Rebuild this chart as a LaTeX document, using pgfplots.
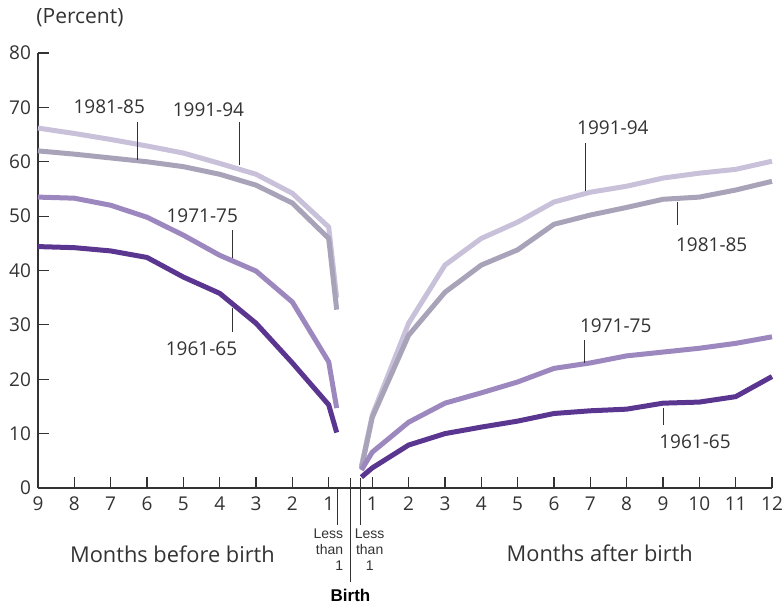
\documentclass[border=0pt]{standalone}
\usepackage{pgfplots}
\pgfplotsset{compat=1.18}
\usepackage{fontspec}
\setmainfont{Open Sans}
\newfontfamily\arialf{Liberation Sans}
\definecolor{cA}{HTML}{5A3690}
\definecolor{cB}{HTML}{9C88BF}
\definecolor{cC}{HTML}{A9A3B9}
\definecolor{cD}{HTML}{C9C0DA}
\definecolor{axc}{HTML}{333333}
\begin{document}
\begin{tikzpicture}
\path[use as bounding box] (-19pt,-58.5pt) rectangle (372.5pt,244pt);
\begin{axis}[
  at={(0pt,0pt)}, anchor=south west,
  scale only axis, width=367pt, height=217.5pt,
  xmin=-8.6, xmax=11.6, ymin=0, ymax=80,
  axis x line=bottom, axis y line=left,
  axis line style={-, axc, line width=0.7pt},
  clip=false,
  tick align=inside, major tick length=5.5pt,
  tick style={axc, line width=0.6pt},
  xtick={-8.6,-7.6,-6.6,-5.6,-4.6,-3.6,-2.6,-1.6,-0.6,0.6,1.6,2.6,3.6,4.6,5.6,6.6,7.6,8.6,9.6,10.6,11.6},
  xticklabels={9,8,7,6,5,4,3,2,1,1,2,3,4,5,6,7,8,9,10,11,12},
  ytick={0,10,...,80},
  tick label style={font=\fontsize{9.5}{11}\selectfont, text=axc},
  xticklabel style={yshift=-1pt},
  /pgf/number format/assume math mode=true,
]
% before birth
\addplot[cD, line width=2.5pt] coordinates {(-8.6,66.2)(-7.6,65.2)(-6.6,64.1)(-5.6,62.9)(-4.6,61.6)(-3.6,59.7)(-2.6,57.7)(-1.6,54.2)(-0.6,48.0)(-0.38,35.0)};
\addplot[cC, line width=2.5pt] coordinates {(-8.6,62.0)(-7.6,61.4)(-6.6,60.7)(-5.6,60.0)(-4.6,59.1)(-3.6,57.7)(-2.6,55.7)(-1.6,52.4)(-0.6,45.9)(-0.38,32.8)};
\addplot[cB, line width=2.5pt] coordinates {(-8.6,53.5)(-7.6,53.3)(-6.6,52.0)(-5.6,49.8)(-4.6,46.5)(-3.6,42.8)(-2.6,39.9)(-1.6,34.2)(-0.6,23.2)(-0.38,14.7)};
\addplot[cA, line width=2.5pt] coordinates {(-8.6,44.4)(-7.6,44.2)(-6.6,43.6)(-5.6,42.4)(-4.6,38.8)(-3.6,35.8)(-2.6,30.3)(-1.6,23.0)(-0.6,15.3)(-0.38,10.2)};
% after birth
\addplot[cD, line width=2.5pt] coordinates {(0.3,4.0)(0.6,13.4)(1.6,30.3)(2.6,41.0)(3.6,45.9)(4.6,48.9)(5.6,52.6)(6.6,54.4)(7.6,55.5)(8.6,57.0)(9.6,57.9)(10.6,58.6)(11.6,60.1)};
\addplot[cC, line width=2.5pt] coordinates {(0.3,3.6)(0.6,13.0)(1.6,28.1)(2.6,36.0)(3.6,41.0)(4.6,43.8)(5.6,48.5)(6.6,50.2)(7.6,51.6)(8.6,53.1)(9.6,53.5)(10.6,54.8)(11.6,56.4)};
\addplot[cB, line width=2.5pt] coordinates {(0.3,3.3)(0.6,6.6)(1.6,12.1)(2.6,15.6)(3.6,17.5)(4.6,19.5)(5.6,22.0)(6.6,23.0)(7.6,24.3)(8.6,25.0)(9.6,25.7)(10.6,26.6)(11.6,27.8)};
\addplot[cA, line width=2.5pt] coordinates {(0.3,2.0)(0.6,3.7)(1.6,7.9)(2.6,10.0)(3.6,11.2)(4.6,12.3)(5.6,13.7)(6.6,14.2)(7.6,14.5)(8.6,15.6)(9.6,15.8)(10.6,16.8)(11.6,20.5)};
% leaders
\begin{scope}[axc, line width=0.5pt]
\draw (axis cs:-5.87,67.3) -- (axis cs:-5.87,60.3);
\draw (axis cs:-3.06,67.3) -- (axis cs:-3.06,59.4);
\draw (axis cs:-3.25,47.4) -- (axis cs:-3.25,42.3);
\draw (axis cs:-3.25,33.1) -- (axis cs:-3.25,28.7);
\draw (axis cs:6.47,63.4) -- (axis cs:6.47,54.6);
\draw (axis cs:9.01,52.6) -- (axis cs:9.01,48.4);
\draw (axis cs:6.45,27.2) -- (axis cs:6.45,23.0);
\draw (axis cs:8.62,14.7) -- (axis cs:8.62,11.6);
\draw (axis cs:-0.36,0) -- ([yshift=-18.5pt]axis cs:-0.36,0);
\draw (axis cs:0.275,1.84) -- ([yshift=-18.5pt]axis cs:0.275,0);
\draw (axis cs:0,1.84) -- ([yshift=-47pt]axis cs:0,0);
\end{scope}
\begin{scope}[font=\fontsize{9.5}{11}\selectfont, text=axc, inner sep=0pt]
\node at (axis cs:-6.64,70.07) {1981-85};
\node at (axis cs:-3.91,69.5) {1991-94};
\node at (axis cs:-4.08,50.0) {1971-75};
\node at (axis cs:-4.10,25.7) {1961-65};
\node at (axis cs:7.22,66.2) {1991-94};
\node at (axis cs:9.94,44.7) {1981-85};
\node at (axis cs:7.30,29.8) {1971-75};
\node at (axis cs:9.48,8.5) {1961-65};
\end{scope}
\node[font=\fontsize{10.9}{13}\selectfont, text=axc, inner sep=0pt] at ([yshift=-33pt]axis cs:-4.90,0) {Months before birth};
\node[font=\fontsize{10.9}{13}\selectfont, text=axc, inner sep=0pt] at ([yshift=-32.5pt]axis cs:6.86,0) {Months after birth};
\node[font=\fontsize{10.5}{12}\selectfont, text=axc, inner sep=0pt, anchor=west] at ([xshift=-1pt,yshift=17.5pt]axis cs:-8.6,80) {(Percent)};
\node[font=\arialf\fontsize{7}{8}\selectfont, text=axc, inner sep=0pt, anchor=north east, align=right] at ([yshift=-20pt]axis cs:-0.19,0) {Less\\than\\1};
\node[font=\arialf\fontsize{7}{8}\selectfont, text=axc, inner sep=0pt, anchor=north west, align=center] at ([yshift=-20pt]axis cs:0.11,0) {Less\\than\\1};
\node[font=\arialf\bfseries\fontsize{8.5}{10}\selectfont, text=black, inner sep=0pt] at ([yshift=-53.5pt]axis cs:0,0) {Birth};
\end{axis}
\end{tikzpicture}
\end{document}
